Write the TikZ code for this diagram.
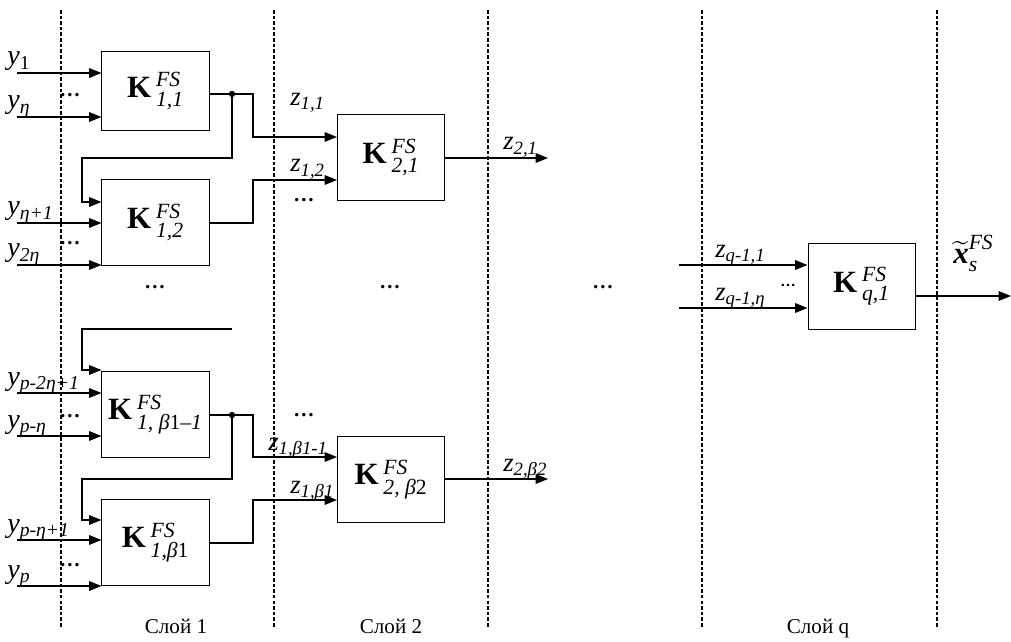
\documentclass[tikz,border=0pt]{standalone}
\usepackage{amsmath}
\usepackage{fontspec}
\setmainfont{Liberation Serif}
\usetikzlibrary{arrows.meta, positioning, calc}

\newcommand{\kname}[1]{\textbf{K}$\,{}^{\textit{FS}}_{#1}$}

\begin{document}
\begin{tikzpicture}[
    x=0.025cm, y=-0.025cm,
    box/.style={draw, line width=0.7pt, minimum width=2.675cm, minimum height=2.125cm, inner sep=0pt, font=\fontsize{22}{22}\selectfont},
    arrow/.style={-{Triangle[length=3.1mm, width=2.4mm]}, line width=1pt},
    layer/.style={line width=0.8pt, dash pattern=on 2.5pt off 1.5pt},
    dot/.style={circle, fill, inner sep=0pt, minimum size=4.5pt},
    ylab/.style={anchor=base west, inner sep=0pt, font=\fontsize{20}{20}\selectfont},
    zlab/.style={anchor=base west, inner sep=0pt, font=\fontsize{19}{19}\selectfont},
    dots/.style={inner sep=0pt, font=\fontsize{15}{15}\selectfont\bfseries},
    layername/.style={anchor=base, inner sep=0pt, font=\fontsize{15}{15}\selectfont},
]
    \useasboundingbox (0,0) rectangle (1011,642);

    \foreach \lx in {61,274,488,702,937}
        \draw[layer] (\lx,10) -- (\lx,627);

    \node[box, minimum height=1.95cm] (k11) at (155.5,91) {\kname{\textit{1,1}}};
    \node[box] (k12) at (155.5,222.5) {\kname{\textit{1,2}}};
    \node[box] (kb1m) at (155.5,414.5) {\kname{\textit{1, β}\text{1}\textit{–1}}};
    \node[box] (kb1) at (155.5,542.5) {\kname{\textit{1,β}\text{1}}};
    \node[box] (k21) at (391,157.5) {\kname{\textit{2,1}}};
    \node[box] (k2b) at (391,479.5) {\kname{\textit{2, β}\text{2}}};
    \node[box] (kq) at (861.5,286.5) {\kname{\textit{q,1}}};

    \coordinate (y1) at (17,73);
    \coordinate (yeta) at (17,117);
    \coordinate (yeta1) at (17,223);
    \coordinate (y2eta) at (17,265);
    \coordinate (yp2) at (17,393);
    \coordinate (ypeta) at (17,436);
    \coordinate (ypeta1) at (17,540);
    \coordinate (yp) at (17,586);

    \draw[arrow] (y1) -- (y1 -| k11.west);
    \draw[arrow] (yeta) -- (yeta -| k11.west);
    \draw[arrow] (yeta1) -- (yeta1 -| k12.west);
    \draw[arrow] (y2eta) -- (y2eta -| k12.west);
    \draw[arrow] (yp2) -- (yp2 -| kb1m.west);
    \draw[arrow] (ypeta) -- (ypeta -| kb1m.west);
    \draw[arrow] (ypeta1) -- (ypeta1 -| kb1.west);
    \draw[arrow] (yp) -- (yp -| kb1.west);

    \node[ylab] (ly1) at (7,65) {\textit{y}$_{\text{1}}$};
    \node[ylab] (lyeta) at (7,109) {\textit{y}$_{\textit{η}}$};
    \node[ylab] (lyeta1) at (7,215) {\textit{y}$_{\textit{η+1}}$};
    \node[ylab] (ly2eta) at (7,257) {\textit{y}$_{\textit{2η}}$};
    \node[ylab] (lyp2) at (7,385) {\textit{y}$_{\textit{p-2η+1}}$};
    \node[ylab] (lypeta) at (7,428) {\textit{y}$_{\textit{p-η}}$};
    \node[ylab] (lypeta1) at (7,532) {\textit{y}$_{\textit{p-η+1}}$};
    \node[ylab] (lyp) at (7,578) {\textit{y}$_{\textit{p}}$};

    \node[dot] (j1) at (232,94) {};
    \coordinate (b1) at (253,137);
    \draw[arrow] (k11.east |- j1) -| (b1) -- (k21.west |- b1);
    \coordinate (f1) at (82,158);
    \draw[arrow] (j1) |- (f1) |- (k12.west |- 0,202);
    \coordinate (b2) at (253,180);
    \draw[arrow] (k12.east |- 0,223) -| (b2) -- (k21.west |- b2);

    \coordinate (f0) at (232,329);
    \coordinate (f0b) at (82,329);
    \draw[arrow] (f0) -- (f0b) |- (kb1m.west |- 0,370);
    \node[dot] (j2) at (232,415) {};
    \coordinate (b3) at (253,457);
    \draw[arrow] (kb1m.east |- j2) -| (b3) -- (k2b.west |- b3);
    \coordinate (f2) at (82,479);
    \draw[arrow] (j2) |- (f2) |- (kb1.west |- 0,520);
    \coordinate (b4) at (253,500);
    \draw[arrow] (kb1.east |- 0,543) -| (b4) -- (k2b.west |- b4);

    \coordinate (o1) at (548,158);
    \draw[arrow] (k21.east |- o1) -- (o1);
    \coordinate (o2) at (548,479);
    \draw[arrow] (k2b.east |- o2) -- (o2);

    \coordinate (zq1) at (679,265);
    \coordinate (zq2) at (679,308);
    \draw[arrow] (zq1) -- (zq1 -| kq.west);
    \draw[arrow] (zq2) -- (zq2 -| kq.west);
    \coordinate (oq) at (1011,296);
    \draw[arrow] (kq.east |- oq) -- (oq);

    \node[zlab] (lz11) at (290,106) {\textit{z}$_{\textit{1,1}}$};
    \node[zlab] (lz12) at (290,172) {\textit{z}$_{\textit{1,2}}$};
    \node[zlab] (lz21) at (503,150) {\textit{z}$_{\textit{2,1}}$};
    \node[zlab] (lzb1m) at (268,450) {\textit{z}$_{\textit{1,β1-1}}$};
    \node[zlab] (lzb1) at (290,493) {\textit{z}$_{\textit{1,β1}}$};
    \node[zlab] (lz2b) at (503,471) {\textit{z}$_{\textit{2,β2}}$};
    \node[zlab] (lzq1) at (715,258) {\textit{z}$_{\textit{q-1,1}}$};
    \node[zlab] (lzq2) at (715,301) {\textit{z}$_{\textit{q-1,η}}$};
    \node[zlab, font=\fontsize{22}{22}\selectfont] (lx) at (953,264) {$\widetilde{\text{\bfseries\itshape x}}^{\textit{FS}}_{\textit{s}}$};

    \node[dots] (d1) at (70,95) {…};
    \node[dots] (d2) at (70,243) {…};
    \node[dots] (d3) at (70,416) {…};
    \node[dots] (d4) at (70,565) {…};
    \node[dots] (d5) at (304,200) {…};
    \node[dots] (d6) at (304,415) {…};
    \node[dots] (d7) at (155,287) {…};
    \node[dots] (d8) at (390,287) {…};
    \node[dots] (d9) at (603,287) {…};
    \node[dots, font=\fontsize{11}{11}\selectfont\bfseries] (d10) at (788,285) {…};

    \node[layername] (s1) at (176,633) {Слой 1};
    \node[layername] (s2) at (391,633) {Слой 2};
    \node[layername] (sq) at (818,633) {Слой q};
\end{tikzpicture}
\end{document}
